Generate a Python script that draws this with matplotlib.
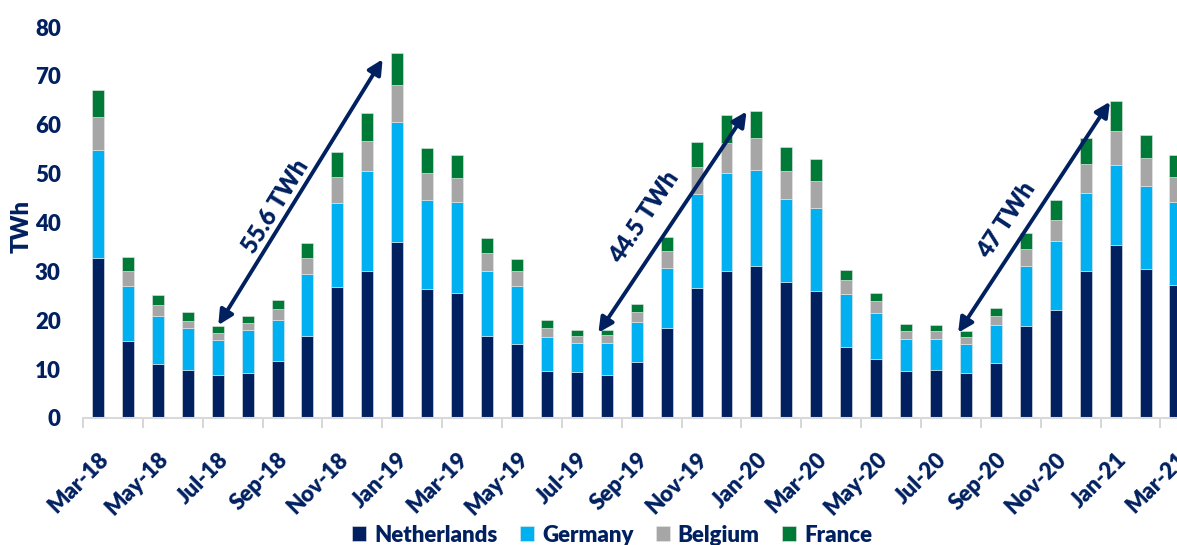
import matplotlib
matplotlib.use("Agg")
import matplotlib.pyplot as plt
import numpy as np

months = ["Mar-18","Apr-18","May-18","Jun-18","Jul-18","Aug-18","Sep-18","Oct-18","Nov-18","Dec-18",
          "Jan-19","Feb-19","Mar-19","Apr-19","May-19","Jun-19","Jul-19","Aug-19","Sep-19","Oct-19",
          "Nov-19","Dec-19","Jan-20","Feb-20","Mar-20","Apr-20","May-20","Jun-20","Jul-20","Aug-20",
          "Sep-20","Oct-20","Nov-20","Dec-20","Jan-21","Feb-21","Mar-21"]

netherlands = [32.8,15.8,11.1,9.8,8.7,9.3,11.7,16.8,26.9,30.1,36.1,26.3,25.5,16.7,15.2,9.7,9.5,8.9,11.5,18.4,
               26.7,30.1,31.0,27.9,26.0,14.5,12.1,9.6,9.8,9.2,11.3,18.9,22.0,30.1,35.3,30.4,27.2]
germany = [22.0,11.2,9.8,8.6,7.3,8.8,8.4,12.7,17.0,20.4,24.5,18.4,18.6,13.4,11.9,6.9,5.8,6.5,8.2,12.2,
           19.2,20.1,19.7,17.0,17.0,10.9,9.4,6.6,6.3,6.0,7.7,12.2,14.2,15.9,16.4,17.0,16.9]
belgium = [6.8,3.1,2.2,1.5,1.4,1.4,2.2,3.2,5.4,6.2,7.5,5.4,5.1,3.6,3.0,1.8,1.4,1.5,2.0,3.5,
           5.5,6.1,6.5,5.7,5.5,2.8,2.4,1.7,1.7,1.4,1.9,3.5,4.4,6.0,7.1,5.7,5.2]
france = [5.6,2.8,2.1,1.7,1.5,1.3,1.8,3.2,5.1,5.7,6.6,5.1,4.7,3.1,2.4,1.6,1.4,1.2,1.6,3.0,
          5.0,5.6,5.6,4.8,4.4,2.0,1.7,1.4,1.3,1.1,1.7,3.2,4.0,5.2,6.1,4.8,4.5]

series_names = ["Netherlands", "Germany", "Belgium", "France"]
colors = ["#002060", "#00B0F0", "#A6A6A6", "#007A37"]

# arrows: (start index, start value) -> (end index, end value), with label
arrow_labels = ["55.6 TWh", "44.5 TWh", "47 TWh"]
arrow_from = [(4.02, 19.0), (16.72, 17.45), (28.74, 17.45)]
arrow_to = [(9.51, 73.4), (21.67, 62.7), (33.81, 64.7)]
label_pos = [(5.95, 43.2), (18.25, 41.1), (30.35, 40.5)]

navy = "#002060"
plt.rcParams['font.family'] = ['Lato', 'DejaVu Sans']

fig = plt.figure(figsize=(11.77, 5.45), dpi=100)
W, H = 1177, 545
x0 = 83
unit = 29.93
ax = fig.add_axes([x0 / W, (H - 418) / H, 37 * unit / W, (418 - 27) / H])

x = np.arange(len(months))
bottom = np.zeros(len(months))
for name, vals, c in zip(series_names, [netherlands, germany, belgium, france], colors):
    ax.bar(x, vals, width=0.4, bottom=bottom, color=c, label=name, edgecolor="#E8E8E8", linewidth=0.4)
    bottom = bottom + np.array(vals)

ax.set_xlim(-0.5, 36.5)
ax.set_ylim(0, 80)
ax.set_yticks(np.arange(0, 81, 10))
ax.tick_params(axis='y', length=0, pad=16, labelsize=16, labelcolor=navy)
for lbl in ax.get_yticklabels():
    lbl.set_fontweight('heavy')

ax.set_xticks(x[::2])
ax.set_xticklabels(months[::2], rotation=45, ha='right', va='top', rotation_mode='anchor',
                   fontsize=16, fontweight='heavy', color=navy)
ax.tick_params(axis='x', which='major', length=0, pad=22)
ax.set_xticks(np.arange(-0.5, 37, 2), minor=True)
ax.tick_params(axis='x', which='minor', length=7, width=1.2, color="#D0D0D0")

for s in ['top', 'right', 'left']:
    ax.spines[s].set_visible(False)
ax.spines['bottom'].set_color("#D9D9D9")
ax.spines['bottom'].set_linewidth(1.5)

ax.set_ylabel("TWh", fontsize=17, fontweight='heavy', color=navy)
ax.yaxis.set_label_coords(-(83 - 33) / (37 * unit), 0.49)

for (xs, ys), (xe, ye), (lx, ly), t in zip(arrow_from, arrow_to, label_pos, arrow_labels):
    ax.annotate("", xy=(xe, ye), xytext=(xs, ys),
                arrowprops=dict(arrowstyle='<|-|>', color=navy, lw=2.8, mutation_scale=22,
                                shrinkA=0, shrinkB=0))
    dxp = (xe - xs) * unit
    dyp = (ye - ys) * 4.8875
    ang = np.degrees(np.arctan2(dyp, dxp))
    ax.text(lx, ly, t, rotation=ang, rotation_mode='anchor', ha='center', va='center',
            fontsize=17, fontweight='heavy', color=navy)

handles, labels = ax.get_legend_handles_labels()
leg = fig.legend(handles, labels, loc='center', bbox_to_anchor=(612 / W, 1 - 535 / H), ncol=4,
                 frameon=False, handlelength=0.65, handleheight=0.65, handletextpad=0.35,
                 columnspacing=1.0, prop={'weight': 'heavy', 'size': 16})
for t in leg.get_texts():
    t.set_color(navy)

fig.savefig("out.png", dpi=100)
